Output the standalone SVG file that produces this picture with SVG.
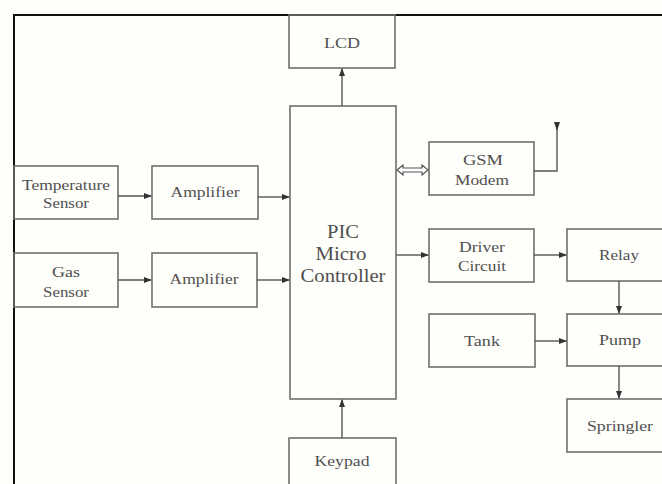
<svg xmlns="http://www.w3.org/2000/svg" width="662" height="484" viewBox="0 0 662 484">
<style>
.box{fill:none;stroke:#6e6e6e;stroke-width:1.6}
.big{font-size:19px}
.c{fill:none;stroke:#555;stroke-width:1.4}
</style>
<defs>
<marker id="ah" markerWidth="8" markerHeight="6" refX="7" refY="3" orient="auto" markerUnits="userSpaceOnUse">
<path d="M0,0 L8,3 L0,6 Z" fill="#333"/>
</marker>
</defs>
<rect width="662" height="484" fill="#fefefb"/>
<path d="M14,484 V15 H662" fill="none" stroke="#111" stroke-width="2"/>
<g font-family="Liberation Serif, Times New Roman, serif" font-size="15" fill="#505050" text-anchor="middle">
<g id="lcd"><rect class="box" x="289" y="15" width="106" height="53"/><text x="342" y="48" textLength="36" lengthAdjust="spacingAndGlyphs">LCD</text></g>
<g id="pic"><rect class="box" x="290" y="106" width="106" height="293"/>
<text class="big" x="343" y="238" textLength="32" lengthAdjust="spacingAndGlyphs">PIC</text>
<text class="big" x="341" y="260" textLength="51" lengthAdjust="spacingAndGlyphs">Micro</text>
<text class="big" x="343" y="282" textLength="85" lengthAdjust="spacingAndGlyphs">Controller</text></g>
<g id="temp"><rect class="box" x="14" y="166" width="104" height="53"/>
<text x="66" y="190" textLength="88" lengthAdjust="spacingAndGlyphs">Temperature</text>
<text x="66" y="208" textLength="46" lengthAdjust="spacingAndGlyphs">Sensor</text></g>
<g id="amp1"><rect class="box" x="152" y="166" width="106" height="53"/><text x="205" y="197" textLength="69" lengthAdjust="spacingAndGlyphs">Amplifier</text></g>
<g id="gas"><rect class="box" x="14" y="253" width="104" height="54"/>
<text x="66" y="277" textLength="28" lengthAdjust="spacingAndGlyphs">Gas</text>
<text x="66" y="297" textLength="46" lengthAdjust="spacingAndGlyphs">Sensor</text></g>
<g id="amp2"><rect class="box" x="152" y="253" width="105" height="54"/><text x="204" y="284" textLength="69" lengthAdjust="spacingAndGlyphs">Amplifier</text></g>
<g id="gsm"><rect class="box" x="429" y="142" width="105" height="53"/>
<text x="483" y="165" textLength="40" lengthAdjust="spacingAndGlyphs">GSM</text>
<text x="482" y="185" textLength="54" lengthAdjust="spacingAndGlyphs">Modem</text></g>
<g id="driver"><rect class="box" x="429" y="229" width="105" height="53"/>
<text x="482" y="252" textLength="46" lengthAdjust="spacingAndGlyphs">Driver</text>
<text x="482" y="271" textLength="48" lengthAdjust="spacingAndGlyphs">Circuit</text></g>
<g id="relay"><rect class="box" x="567" y="229" width="110" height="52"/><text x="619" y="260" textLength="40" lengthAdjust="spacingAndGlyphs">Relay</text></g>
<g id="tank"><rect class="box" x="429" y="314" width="106" height="53"/><text x="482" y="346" textLength="36" lengthAdjust="spacingAndGlyphs">Tank</text></g>
<g id="pump"><rect class="box" x="567" y="314" width="110" height="52"/><text x="620" y="345" textLength="42" lengthAdjust="spacingAndGlyphs">Pump</text></g>
<g id="springler"><rect class="box" x="567" y="399" width="110" height="53"/><text x="620" y="431" textLength="66" lengthAdjust="spacingAndGlyphs">Springler</text></g>
<g id="keypad"><rect class="box" x="289" y="438" width="107" height="60"/><text x="342" y="466" textLength="55" lengthAdjust="spacingAndGlyphs">Keypad</text></g>
</g>
<g id="connectors">
<line class="c" x1="342" y1="106" x2="342" y2="69" marker-end="url(#ah)"/>
<line class="c" x1="118" y1="196" x2="151" y2="196" marker-end="url(#ah)"/>
<line class="c" x1="258" y1="197" x2="289" y2="197" marker-end="url(#ah)"/>
<line class="c" x1="118" y1="280" x2="151" y2="280" marker-end="url(#ah)"/>
<line class="c" x1="257" y1="280" x2="289" y2="280" marker-end="url(#ah)"/>
<line class="c" x1="396" y1="255" x2="428" y2="255" marker-end="url(#ah)"/>
<line class="c" x1="534" y1="255" x2="566" y2="255" marker-end="url(#ah)"/>
<line class="c" x1="619" y1="281" x2="619" y2="313" marker-end="url(#ah)"/>
<line class="c" x1="535" y1="341" x2="566" y2="341" marker-end="url(#ah)"/>
<line class="c" x1="619" y1="366" x2="619" y2="398" marker-end="url(#ah)"/>
<line class="c" x1="342" y1="438" x2="342" y2="400" marker-end="url(#ah)"/>
<polygon points="397,170 403,165 403,168 422,168 422,165 428,170 422,175 422,172 403,172 403,175" fill="#fff" stroke="#555" stroke-width="1.2"/>
<path class="c" d="M534,171 H557 V124"/>
<path d="M554,122 L560,122 L557,131 Z" fill="#333"/>
</g>
</svg>
